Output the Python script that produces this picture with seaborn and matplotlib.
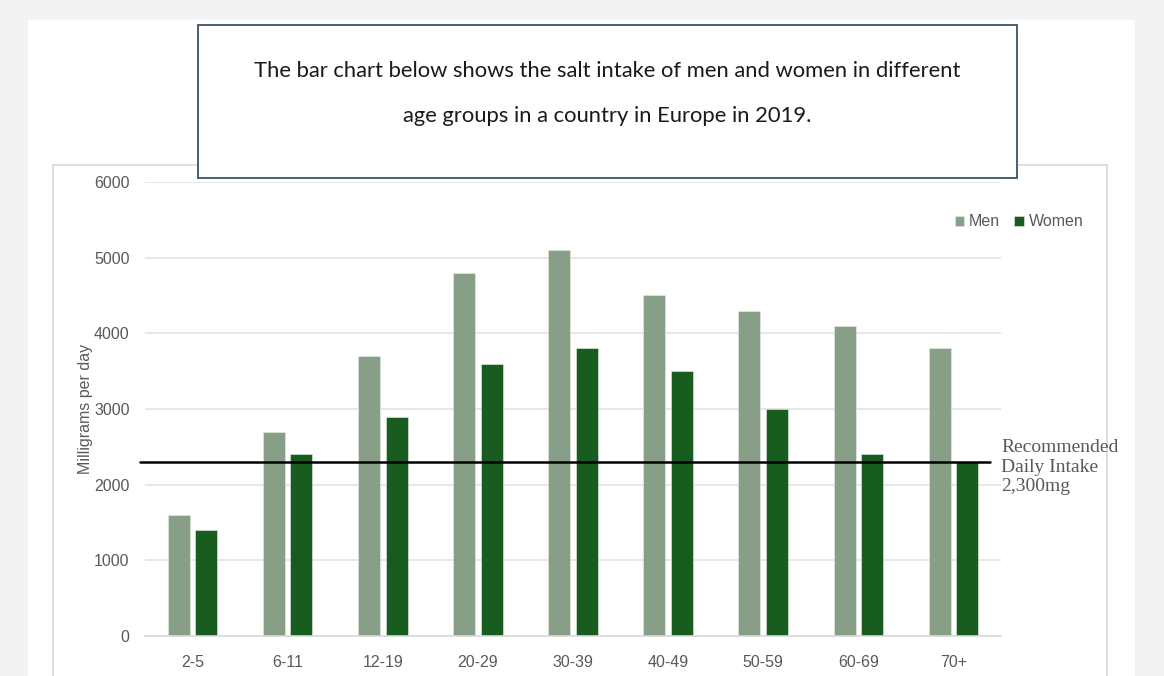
import numpy as np
import pandas as pd
import matplotlib.pyplot as plt
from matplotlib.patches import Rectangle
from matplotlib.lines import Line2D
import seaborn as sns

ages = ['2-5', '6-11', '12-19', '20-29', '30-39', '40-49', '50-59', '60-69', '70+']
men = [1600, 2700, 3700, 4800, 5100, 4500, 4300, 4100, 3800]
women = [1400, 2400, 2900, 3600, 3800, 3500, 3000, 2400, 2300]
recommended = 2300

df = pd.DataFrame({
    'age': ages * 2,
    'mg': men + women,
    'sex': ['Men'] * len(ages) + ['Women'] * len(ages),
})

W, H = 1164, 676

def fx(px):
    return px / W

def fy(py):
    return 1 - py / H

sns.set_style('white')
plt.rcParams['font.family'] = ['Liberation Sans', 'DejaVu Sans']

fig = plt.figure(figsize=(W / 100, H / 100), dpi=100)
fig.patch.set_facecolor('#f3f3f3')

# white page behind everything
fig.patches.append(Rectangle((fx(28), 0), fx(1135) - fx(28), fy(20), transform=fig.transFigure,
                             facecolor='white', edgecolor='none', zorder=-10))

# chart area border (top is partly hidden behind the title box)
grey = '#d9d9d9'
for xs, ys in [([53, 1107], [165, 165]),
               ([53, 53], [165, 680]), ([1107, 1107], [165, 680])]:
    fig.add_artist(Line2D([fx(x) for x in xs], [fy(y) for y in ys], transform=fig.transFigure,
                          color=grey, lw=1.2, zorder=-5))

ax = fig.add_axes([fx(145), fy(636), fx(1001) - fx(145), fy(182) - fy(636)])
sns.barplot(data=df, x='age', y='mg', hue='sex', palette=['#879f87', '#185c20'], saturation=1,
            width=0.58, gap=0.2, ax=ax, edgecolor='#e8eee8', linewidth=0.4)

ax.set_ylim(0, 6000)
ax.set_yticks(np.arange(0, 6001, 1000))
ax.set_xlim(-0.5, len(ages) - 0.5)
ax.yaxis.grid(True, color='#e3e3e3', lw=1.2)
ax.set_axisbelow(True)
for s in ['top', 'right', 'left']:
    ax.spines[s].set_visible(False)
ax.spines['bottom'].set_color('#d9d9d9')
ax.spines['bottom'].set_linewidth(1.2)
ax.tick_params(axis='both', length=0, colors='#595959', labelsize=11.5)
ax.tick_params(axis='y', pad=11)
ax.tick_params(axis='x', pad=14)
ax.set_xlabel('')
ax.set_ylabel('Milligrams per day', color='#595959', fontsize=11.5, labelpad=1)

handles, labels = ax.get_legend_handles_labels()
ax.get_legend().remove()
fig.legend(handles, labels, loc='center', bbox_to_anchor=(fx(1019), fy(222)), ncol=2,
           frameon=False, handlelength=0.6, handleheight=0.6, handletextpad=0.3,
           columnspacing=0.9, fontsize=11.5, labelcolor='#595959')

# recommended daily intake line
ax.axhline(recommended, xmin=-0.006, xmax=0.987, color='black', lw=1.8, clip_on=False, zorder=5)
fig.text(fx(1001), fy(467), 'Recommended\nDaily Intake\n2,300mg', family=['Liberation Serif', 'DejaVu Serif'],
         fontsize=14, color='#595959', va='center', ha='left', linespacing=1.2)

# title box
fig.patches.append(Rectangle((fx(198), fy(178)), fx(1017) - fx(198), fy(25) - fy(178),
                             transform=fig.transFigure, facecolor='white', edgecolor='#3c5262',
                             lw=1.3, zorder=3))
fig.text(fx(607), fy(71), 'The bar chart below shows the salt intake of men and women in different',
         ha='center', va='center', fontsize=15.8, color='#1a1a1a', zorder=4,
         family=['Lato', 'DejaVu Sans'])
fig.text(fx(607), fy(116), 'age groups in a country in Europe in 2019.',
         ha='center', va='center', fontsize=15.8, color='#1a1a1a', zorder=4,
         family=['Lato', 'DejaVu Sans'])

fig.savefig('out.png', dpi=100, facecolor=fig.get_facecolor())
